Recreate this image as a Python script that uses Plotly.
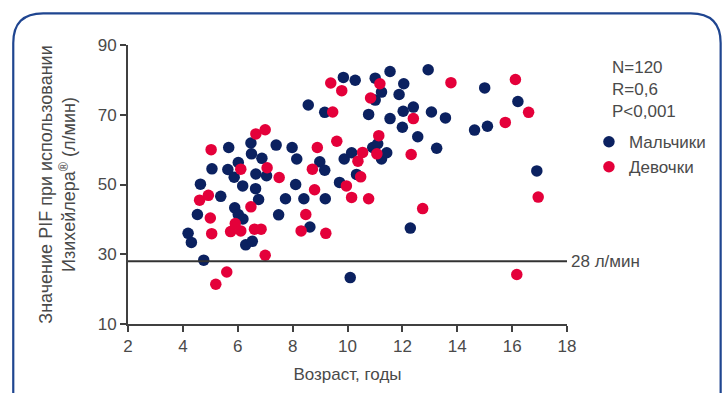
import plotly.graph_objects as go

# Boys (Мальчики): age (years), PIF (L/min)
boys_age = [4.19, 4.31, 4.53, 4.64, 4.76, 5.06, 5.38, 5.67, 5.64, 5.87, 5.89, 6.02, 6.02, 6.18,
            6.19, 6.29, 6.53, 6.48, 6.50, 6.65, 6.66, 6.76, 6.88, 7.05, 7.40, 7.49, 7.74, 7.98,
            8.15, 8.11, 8.41, 8.57, 8.63, 8.99, 9.17, 9.17, 9.19, 9.71, 9.85, 9.88, 10.15, 10.10,
            10.28, 10.33, 10.77, 10.92, 11.01, 11.01, 11.10, 11.24, 11.24, 11.43, 11.55, 11.55,
            11.88, 12.05, 12.03, 12.00, 12.29, 12.40, 12.56, 12.94, 13.06, 13.25, 13.57, 14.63,
            15.00, 15.10, 16.21, 16.90]
boys_pif = [36.0, 33.4, 41.4, 50.1, 28.3, 54.5, 46.6, 60.6, 54.3, 52.1, 43.3, 56.3, 41.4, 49.6,
            40.1, 32.7, 33.7, 61.9, 58.8, 48.8, 53.0, 45.7, 57.5, 52.5, 61.3, 41.3, 45.9, 60.6,
            57.3, 50.0, 45.9, 72.8, 37.8, 56.5, 70.7, 54.1, 45.9, 50.6, 80.7, 57.3, 59.1, 23.3,
            79.9, 52.9, 70.1, 60.6, 80.5, 74.2, 61.7, 76.5, 57.3, 59.1, 82.4, 68.9,
            75.8, 78.9, 71.0, 66.4, 37.5, 72.2, 63.7, 82.9, 70.8, 60.4, 69.1, 65.6,
            77.7, 66.7, 73.8, 53.9]

# Girls (Девочки)
girls_age = [4.61, 4.93, 5.03, 5.00, 5.05, 5.20, 5.60, 5.74, 5.91, 6.11, 6.11, 6.48, 6.66, 6.61,
             6.85, 7.00, 7.07, 7.00, 7.51, 8.31, 8.48, 8.72, 8.80, 8.90, 9.21, 9.39, 9.46, 9.61,
             9.79, 9.96, 10.15, 10.38, 10.48, 10.55, 10.77, 10.84, 11.07, 11.14, 11.18, 12.32,
             12.40, 12.74, 13.77, 15.75, 16.12, 16.17, 16.60, 16.95]
girls_pif = [45.5, 46.9, 60.0, 40.4, 35.9, 21.4, 24.9, 36.5, 38.8, 54.4, 36.7, 43.6, 64.5, 37.2,
             37.2, 65.7, 54.8, 29.7, 52.0, 36.7, 41.4, 54.4, 48.5, 60.6, 36.0, 79.1, 70.8, 62.4,
             76.9, 49.6, 46.3, 56.7, 52.2, 59.2, 45.9, 74.8, 58.8, 64.0, 78.9, 58.6,
             68.9, 43.1, 79.2, 67.8, 80.1, 24.2, 70.7, 46.4]

threshold = 28
threshold_label = "28 л/мин"
stats_lines = ["N=120", "R=0,6", "P<0,001"]
x_ticks = [2, 4, 6, 8, 10, 12, 14, 16, 18]
y_ticks = [10, 30, 50, 70, 90]

BLUE = "#0b2160"
RED = "#e4003a"
AXIS = "#404040"
TXT = "#4a4a4a"
FONT = "Liberation Sans, Arial, sans-serif"
FS = 17

W, H = 723, 393
L, R, T, B = 128, 155, 45, 66
pw, ph = W - L - R, H - T - B

def px(x):
    return (x - L) / pw

def py(y):
    return (H - B - y) / ph

fig = go.Figure()
fig.add_trace(go.Scatter(x=boys_age, y=boys_pif, mode="markers", name="Мальчики",
                         marker=dict(color=BLUE, size=11.5, line=dict(width=0))))
fig.add_trace(go.Scatter(x=girls_age, y=girls_pif, mode="markers", name="Девочки",
                         marker=dict(color=RED, size=11.5, line=dict(width=0))))

# threshold line
fig.add_shape(type="line", xref="x", yref="y", x0=x_ticks[0], x1=x_ticks[-1],
              y0=threshold, y1=threshold, line=dict(color="#333333", width=2))
fig.add_annotation(x=x_ticks[-1], y=threshold, xref="x", yref="y", text=threshold_label,
                   showarrow=False, xanchor="left", xshift=2, yanchor="middle",
                   font=dict(family=FONT, size=FS, color=TXT))

# stats text
for i, s in enumerate(stats_lines):
    fig.add_annotation(x=px(611), y=py(68 + 22 * i), xref="paper", yref="paper", text=s,
                       showarrow=False, xanchor="left", yanchor="middle",
                       font=dict(family=FONT, size=FS, color=TXT))

# rounded border
x0, y0, x1, y1, r = 13, 13, 722, 405, 30
rx, ry = r / pw, r / ph
path = (f"M {px(x0)},{py(y1)} L {px(x0)},{py(y0)-ry} Q {px(x0)},{py(y0)} {px(x0)+rx},{py(y0)} "
        f"L {px(x1)-rx},{py(y0)} Q {px(x1)},{py(y0)} {px(x1)},{py(y0)-ry} L {px(x1)},{py(y1)}")
fig.add_shape(type="path", xref="paper", yref="paper", path=path,
              line=dict(color="#1f4590", width=2.2), layer="below")

fig.update_layout(
    width=W, height=H, margin=dict(l=L, r=R, t=T, b=B),
    paper_bgcolor="white", plot_bgcolor="white",
    font=dict(family=FONT, size=FS, color=TXT),
    showlegend=True,
    legend=dict(x=px(590), y=py(125), xref="paper", yref="paper", xanchor="left", yanchor="top",
                font=dict(family=FONT, size=FS, color=TXT), itemwidth=30,
                bgcolor="rgba(0,0,0,0)", tracegroupgap=0),
    xaxis=dict(range=[2, 18], tickvals=x_ticks, showgrid=False, zeroline=False,
               showline=True, linecolor=AXIS, linewidth=2, ticks="outside", ticklen=6,
               tickwidth=2, tickcolor=AXIS, tickfont=dict(size=FS, color=TXT),
               title=dict(text="Возраст, годы", font=dict(size=FS, color=TXT), standoff=13)),
    yaxis=dict(range=[10, 90], tickvals=y_ticks, showgrid=False, zeroline=False,
               showline=True, linecolor=AXIS, linewidth=2, ticks="outside", ticklen=6,
               tickwidth=2, tickcolor=AXIS, tickfont=dict(size=FS, color=TXT),
               title=dict(text="Значение PIF при использовании<br>Изихейлера<sup>®</sup> (л/мин)",
                          font=dict(size=18, color=TXT), standoff=17)),
)

fig.write_html("out.html")
